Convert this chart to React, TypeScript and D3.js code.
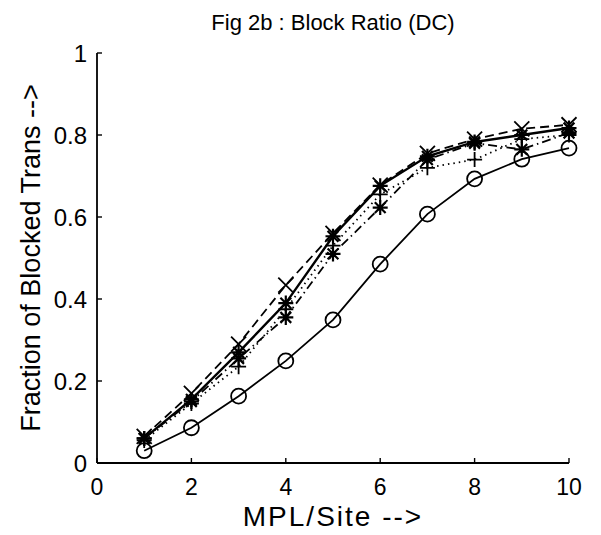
import React from "react";
import * as d3 from "d3";

const xs = [1, 2, 3, 4, 5, 6, 7, 8, 9, 10];
const circleSolid = [0.03, 0.086, 0.163, 0.249, 0.349, 0.485, 0.607, 0.693, 0.741, 0.768];
const xDashed = [0.065, 0.17, 0.29, 0.434, 0.56, 0.678, 0.755, 0.79, 0.815, 0.825];
const starSolid = [0.06, 0.155, 0.27, 0.39, 0.553, 0.676, 0.748, 0.783, 0.8, 0.817];
const plusDotted = [0.055, 0.145, 0.235, 0.375, 0.53, 0.655, 0.72, 0.74, 0.79, 0.8];
const starDashDot = [0.06, 0.15, 0.255, 0.355, 0.51, 0.623, 0.74, 0.78, 0.765, 0.805];
const xTicks = [0, 2, 4, 6, 8, 10];
const yTicks = [0, 0.2, 0.4, 0.6, 0.8, 1];

const title = "Fig 2b : Block Ratio (DC)";
const xLabel = "MPL/Site -->";
const yLabel = "Fraction of Blocked Trans -->";

type Series = { values: number[]; marker: string; dash: string };
const series: Series[] = [
  { values: circleSolid, marker: "o", dash: "" },
  { values: plusDotted, marker: "+", dash: "1.5,4" },
  { values: starDashDot, marker: "*", dash: "9,4,1.5,4" },
  { values: xDashed, marker: "x", dash: "9,5" },
  { values: starSolid, marker: "*", dash: "" },
];

function Marker({ m, cx, cy }: { m: string; cx: number; cy: number }) {
  const s = 7.5;
  if (m === "o") return <circle cx={cx} cy={cy} r={7.5} fill="none" stroke="#000" strokeWidth={1.8} />;
  if (m === "+")
    return (
      <path d={`M${cx - s},${cy}H${cx + s}M${cx},${cy - s}V${cy + s}`} stroke="#000" strokeWidth={1.8} />
    );
  if (m === "x")
    return (
      <path
        d={`M${cx - s},${cy - s}L${cx + s},${cy + s}M${cx - s},${cy + s}L${cx + s},${cy - s}`}
        stroke="#000"
        strokeWidth={1.8}
      />
    );
  const d = s * 0.72;
  return (
    <path
      d={`M${cx - s},${cy}H${cx + s}M${cx},${cy - s}V${cy + s}M${cx - d},${cy - d}L${cx + d},${cy + d}M${cx - d},${cy + d}L${cx + d},${cy - d}`}
      stroke="#000"
      strokeWidth={2.2}
    />
  );
}

export default function App() {
  const W = 601, H = 535;
  const left = 97, right = 569, top = 53, bottom = 463;
  const x = d3.scaleLinear().domain([0, 10]).range([left, right]);
  const y = d3.scaleLinear().domain([0, 1]).range([bottom, top]);
  const line = d3.line<number>().x((_, i) => x(xs[i])).y((v) => y(v));
  const font = "'Liberation Sans', Arial, Helvetica, sans-serif";
  return (
    <svg width={W} height={H} style={{ position: "absolute", left: 0, top: 0, background: "#fff" }}>
      <rect width={W} height={H} fill="#fff" />
      <text x={333} y={30} textAnchor="middle" fontFamily={font} fontSize={22} fill="#000">
        {title}
      </text>
      <line x1={left} x2={left} y1={top} y2={bottom} stroke="#000" strokeWidth={1.8} />
      <line x1={left} x2={right} y1={bottom} y2={bottom} stroke="#000" strokeWidth={1.8} />
      {yTicks.map((t) => (
        <g key={"y" + t}>
          <line x1={left} x2={left + 5} y1={y(t)} y2={y(t)} stroke="#000" strokeWidth={1.4} />
          <text x={left - 10} y={y(t) + 8.5} textAnchor="end" fontFamily={font} fontSize={24} fill="#000">
            {t}
          </text>
        </g>
      ))}
      {xTicks.map((t) => (
        <g key={"x" + t}>
          <line x1={x(t)} x2={x(t)} y1={bottom} y2={bottom - 5} stroke="#000" strokeWidth={1.4} />
          <text x={x(t)} y={495} textAnchor="middle" fontFamily={font} fontSize={23} fill="#000">
            {t}
          </text>
        </g>
      ))}
      <text
        x={333}
        y={526}
        textAnchor="middle"
        fontFamily={font}
        fontSize={28}
        letterSpacing={2}
        fill="#000"
      >
        {xLabel}
      </text>
      <text
        transform={`translate(40,${(top + bottom) / 2}) rotate(-90)`}
        textAnchor="middle"
        fontFamily={font}
        fontSize={27}
        fill="#000"
      >
        {yLabel}
      </text>
      {series.map((s, i) => (
        <g key={i}>
          <path
            d={line(s.values) || ""}
            fill="none"
            stroke="#000"
            strokeWidth={s.dash === "" && s.marker === "*" ? 2.4 : 1.8}
            strokeDasharray={s.dash || undefined}
          />
          {s.values.map((v, j) => (
            <Marker key={j} m={s.marker} cx={x(xs[j])} cy={y(v)} />
          ))}
        </g>
      ))}
    </svg>
  );
}
